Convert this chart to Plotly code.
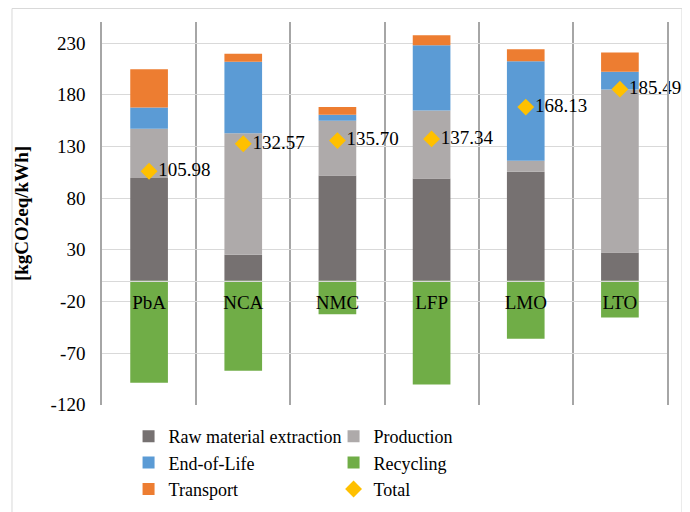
import plotly.graph_objects as go

categories = ["PbA", "NCA", "NMC", "LFP", "LMO", "LTO"]
raw_material = [99.4, 25.2, 101.9, 99.0, 105.5, 27.4]
production = [47.7, 117.7, 52.9, 65.8, 10.6, 157.8]
end_of_life = [20.6, 69.0, 5.8, 63.3, 96.5, 17.1]
recycling = [-98.8, -87.1, -32.4, -100.4, -56.1, -35.5]
transport = [37.1, 7.8, 7.5, 9.6, 11.6, 18.7]
total = [105.98, 132.57, 135.70, 137.34, 168.13, 185.49]
y_ticks = [-120, -70, -20, 30, 80, 130, 180, 230]

FONT = '"Liberation Serif", "Times New Roman", serif'
y_min, y_max = -120.3, 250.5

fig = go.Figure()
bar_w = 0.4
for name, vals, col in [
    ("Raw material extraction", raw_material, "#767171"),
    ("Production", production, "#AEAAAA"),
    ("End-of-Life", end_of_life, "#5B9BD5"),
    ("Recycling", recycling, "#70AD47"),
    ("Transport", transport, "#ED7D31"),
]:
    fig.add_trace(go.Bar(x=categories, y=vals, name=name, marker_color=col,
                         marker_line_width=0, width=bar_w))

fig.add_trace(go.Scatter(
    x=categories, y=total, name="Total", mode="markers+text",
    marker=dict(symbol="diamond", size=13, color="#FFC000"),
    text=[f"{v:.2f}" for v in total], textposition="middle right",
    textfont=dict(family=FONT, size=19, color="#000000"),
    cliponaxis=False,
))

# page body has an 8px default margin, so the figure is sized to fit the viewport
fig.update_layout(
    width=682, height=504,
    margin=dict(l=94, r=23, t=14, b=107, autoexpand=False),
    barmode="relative",
    plot_bgcolor="white", paper_bgcolor="white",
    font=dict(family=FONT, size=19, color="#000000"),
    showlegend=True,
    legend=dict(orientation="h", x=0.047, y=-0.034, xanchor="left", yanchor="top",
                entrywidth=160, entrywidthmode="pixels",
                font=dict(family=FONT, size=18, color="#000000"),
                itemwidth=30, traceorder="normal"),
    xaxis=dict(
        type="category", anchor="free",
        position=(0 - y_min) / (y_max - y_min),
        showgrid=True, gridcolor="#A6A6A6", gridwidth=1.5,
        tickson="boundaries", ticks="", showline=True, linecolor="#D9D9D9",
        linewidth=1, tickfont=dict(family=FONT, size=19, color="#000000"),
        ticklabelstandoff=4,
    ),
    yaxis=dict(
        range=[y_min, y_max], tickmode="array", tickvals=y_ticks,
        ticktext=[str(v) for v in y_ticks],
        showgrid=True, gridcolor="#D9D9D9", gridwidth=1, zeroline=False,
        showline=True, mirror=True, linecolor="#A6A6A6", linewidth=1.5, ticks="",
        ticklabelstandoff=11,
        tickfont=dict(family=FONT, size=19, color="#000000"),
        title=dict(text="<b>[kgCO2eq/kWh]</b>", standoff=17,
                   font=dict(family=FONT, size=19, color="#000000")),
    ),
    shapes=[dict(type="rect", xref="paper", yref="paper",
                 x0=-0.1593, x1=1.0265, y0=-0.3, y1=1.0352,
                 line=dict(color="#D9D9D9", width=1), layer="below")],
)

fig.write_html("out.html")
